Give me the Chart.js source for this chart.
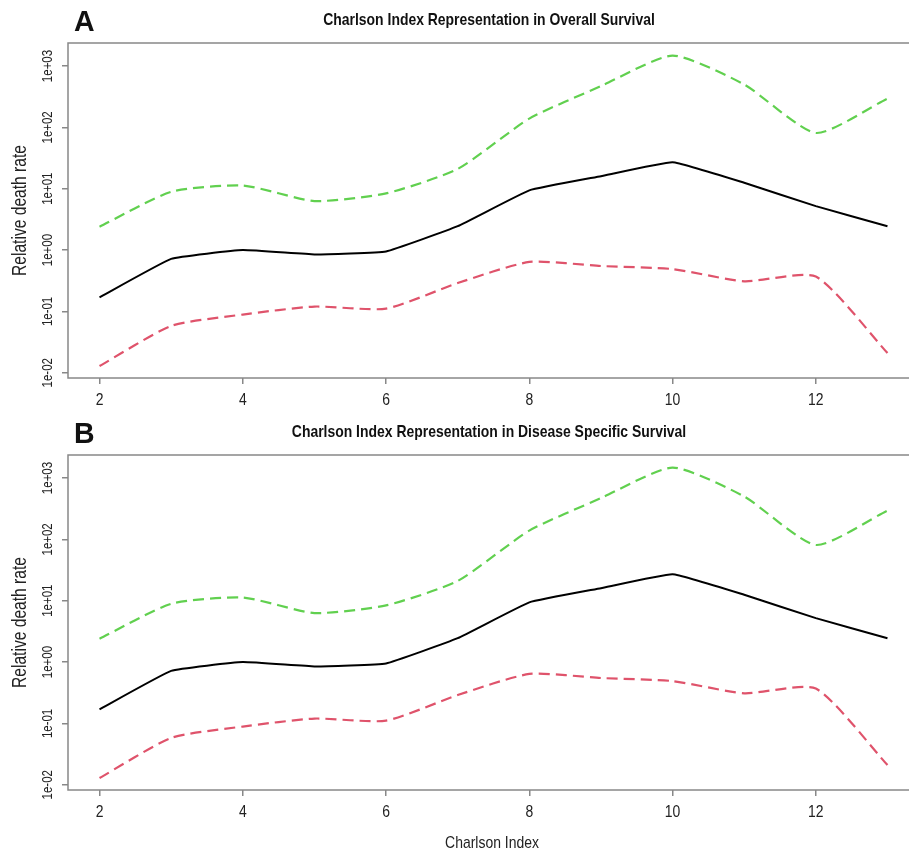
<!DOCTYPE html>
<html>
<head>
<meta charset="utf-8">
<script src="https://cdn.jsdelivr.net/npm/chart.js@4.4.1/dist/chart.umd.min.js"></script>
<style>
    body { margin: 0; background: #fff; overflow: hidden; width: 909px; height: 853px; position: relative; }
    canvas { position: absolute; left: 0; }
</style>
</head>
<body>
<canvas id="chartA" width="930" height="412" style="top:0"></canvas>
<canvas id="chartB" width="930" height="441" style="top:412px"></canvas>
<script>
// Charlson index values on the x axis
const charlsonIndex = [2, 3, 4, 5, 6, 7, 8, 9, 10, 11, 12, 13];
const xTicks = [2, 4, 6, 8, 10, 12];
const yTicks = [1e-2, 1e-1, 1e0, 1e1, 1e2, 1e3];

// Overall survival: estimate and confidence bounds
const osEstimate = [0.17, 0.72, 1.0, 0.85, 0.95, 2.45, 9.4, 16, 27, 12.5, 5.2, 2.45];
const osUpper = [2.4, 8.9, 11.3, 6.3, 8.4, 21, 139, 470, 1480, 500, 81, 295];
const osLower = [0.0129, 0.058, 0.089, 0.12, 0.111, 0.29, 0.64, 0.55, 0.49, 0.31, 0.37, 0.021];

// Disease specific survival
const dssEstimate = [0.17, 0.72, 1.0, 0.85, 0.95, 2.45, 9.4, 16, 27, 12.5, 5.2, 2.45];
const dssUpper = [2.4, 8.9, 11.3, 6.3, 8.4, 21, 139, 470, 1480, 500, 81, 295];
const dssLower = [0.0129, 0.058, 0.089, 0.12, 0.111, 0.29, 0.64, 0.55, 0.49, 0.31, 0.37, 0.021];

const FONT = "'Liberation Sans', Arial, sans-serif";
const SQUEEZE = 0.82; // no narrow font installed, so compress Liberation Sans

const toPoints = values => charlsonIndex.map((x, i) => ({ x: x, y: values[i] }));

const formatSci = v => {
    const e = Math.round(Math.log10(v));
    return "1e" + (e < 0 ? "-" : "+") + String(Math.abs(e)).padStart(2, "0");
}

const narrowText = (ctx, text, x, y, rotate, squeeze = SQUEEZE) => {
    ctx.save();
    ctx.translate(x, y);
    if (rotate) ctx.rotate(-Math.PI / 2);
    ctx.scale(squeeze, 1);
    ctx.fillText(text, 0, 0);
    ctx.restore();
}

// Box, tick labels and titles in R style
const panelDecor = {
    id: "panelDecor",
    afterDraw(chart, args, opts) {
        const { ctx, chartArea: area, scales } = chart;
        ctx.save();
        ctx.strokeStyle = "#888";
        ctx.lineWidth = 1.5;
        ctx.strokeRect(area.left, area.top, area.right - area.left, area.bottom - area.top);

        ctx.fillStyle = "#222";
        ctx.textAlign = "center";
        ctx.textBaseline = "middle";

        ctx.font = "14px " + FONT;
        for (const t of scales.y.ticks) {
            narrowText(ctx, formatSci(t.value), 48, scales.y.getPixelForValue(t.value), true);
        }

        ctx.font = "17px " + FONT;
        for (const t of scales.x.ticks) {
            narrowText(ctx, String(t.value), scales.x.getPixelForValue(t.value), area.bottom + 22, false);
        }

        ctx.font = "20px " + FONT;
        narrowText(ctx, "Relative death rate", 20, (area.top + area.bottom) / 2, true, 0.78);

        ctx.fillStyle = "#111";
        ctx.font = "bold 17px " + FONT;
        narrowText(ctx, opts.title, 489, 20, false);

        ctx.textAlign = "left";
        ctx.font = "bold 30px " + FONT;
        narrowText(ctx, opts.letter, 74, 23, false, 0.95);

        if (opts.xTitle) {
            ctx.textAlign = "center";
            ctx.fillStyle = "#222";
            ctx.font = "17px " + FONT;
            narrowText(ctx, opts.xTitle, 492, 431, false);
        }
        ctx.restore();
    }
}

const makeChart = (canvasId, letter, title, xTitle, estimate, upper, lower) => {
    const canvas = document.getElementById(canvasId);
    const xAxisHeight = canvas.height - 378;
    return new Chart(canvas, {
        type: "line",
        data: {
            datasets: [
                {
                    data: toPoints(upper),
                    borderColor: "#61D04F",
                    borderWidth: 2.2,
                    borderDash: [11, 6],
                    pointRadius: 0,
                    tension: 0.2
                },
                {
                    data: toPoints(estimate),
                    borderColor: "#000",
                    borderWidth: 2,
                    pointRadius: 0,
                    tension: 0.1
                },
                {
                    data: toPoints(lower),
                    borderColor: "#DF536B",
                    borderWidth: 2.2,
                    borderDash: [11, 6],
                    pointRadius: 0,
                    tension: 0.2
                }
            ]
        },
        options: {
            responsive: false,
            animation: false,
            layout: { padding: { top: 43, right: 11, left: 0, bottom: 0 } },
            plugins: {
                legend: { display: false },
                tooltip: { enabled: false },
                panelDecor: { letter: letter, title: title, xTitle: xTitle }
            },
            scales: {
                x: {
                    type: "linear",
                    min: 1.56,
                    max: 13.44,
                    afterBuildTicks: scale => { scale.ticks = xTicks.map(v => ({ value: v })); },
                    afterFit: scale => { scale.height = xAxisHeight; },
                    border: { display: false },
                    grid: { drawOnChartArea: false, drawTicks: true, tickLength: 6, color: "#888", lineWidth: 1.5 },
                    ticks: { display: false }
                },
                y: {
                    type: "logarithmic",
                    min: Math.pow(10, -2.085),
                    max: Math.pow(10, 3.375),
                    afterBuildTicks: scale => { scale.ticks = yTicks.map(v => ({ value: v })); },
                    afterFit: scale => { scale.width = 68; },
                    border: { display: false },
                    grid: { drawOnChartArea: false, drawTicks: true, tickLength: 6, color: "#888", lineWidth: 1.5 },
                    ticks: { display: false }
                }
            }
        },
        plugins: [panelDecor]
    });
}

makeChart("chartA", "A", "Charlson Index Representation in Overall Survival", null, osEstimate, osUpper, osLower);
makeChart("chartB", "B", "Charlson Index Representation in Disease Specific Survival", "Charlson Index", dssEstimate, dssUpper, dssLower);
</script>
</body>
</html>
